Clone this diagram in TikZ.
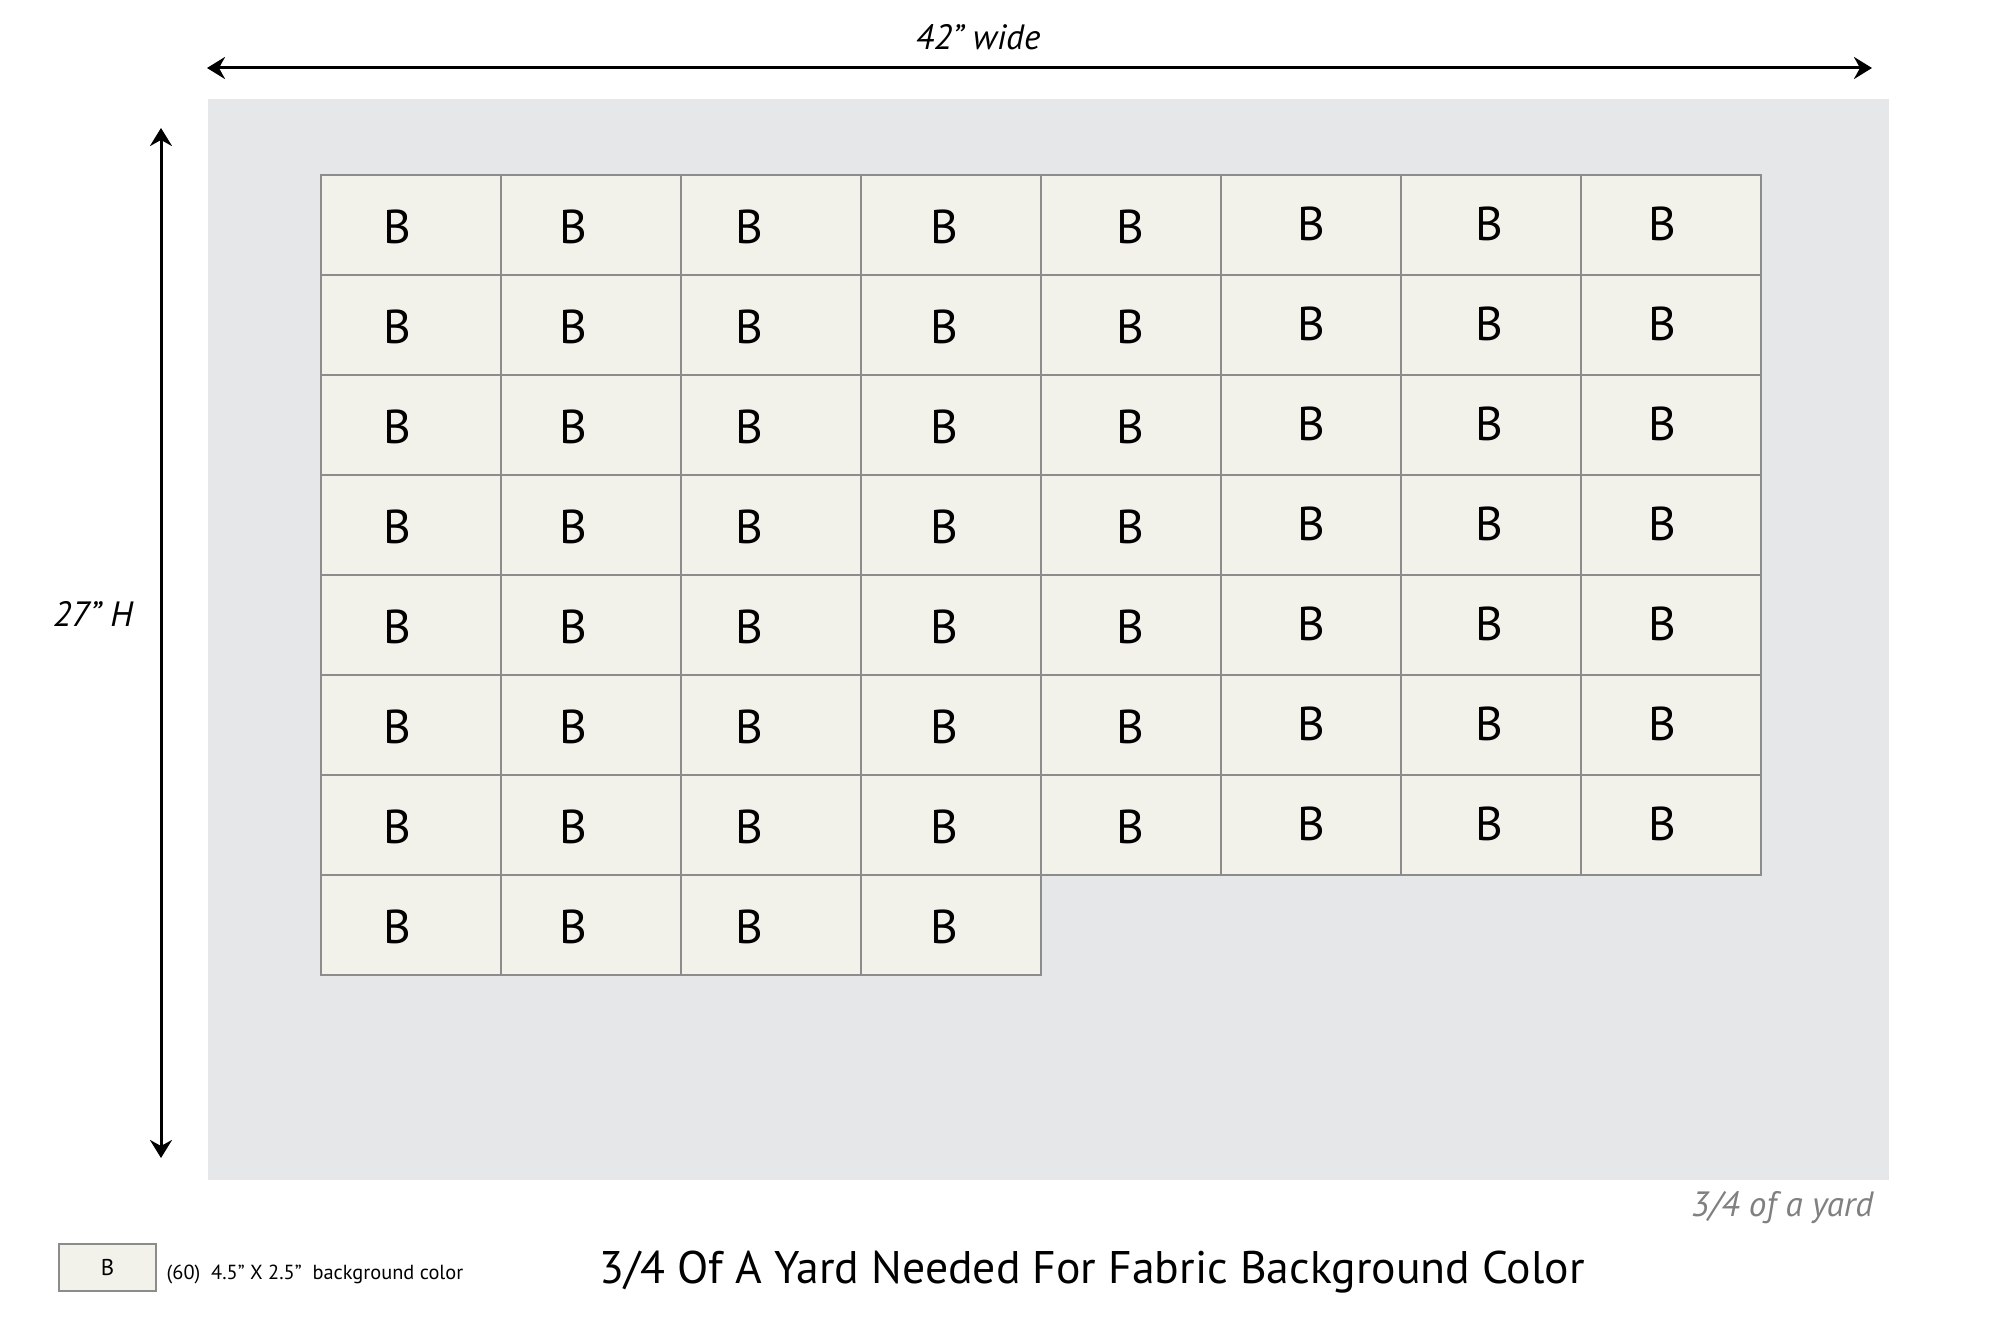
\documentclass[tikz,border=0pt]{standalone}
\usepackage{fontspec}
\setmainfont{PT Sans}
\usetikzlibrary{arrows.meta,positioning}
\definecolor{cloth}{HTML}{E6E7E9}
\definecolor{piececol}{HTML}{F2F2EA}
\definecolor{seam}{HTML}{8C8C8C}
\definecolor{notegray}{HTML}{808080}
\tikzset{
  piece/.style={draw=seam,fill=piececol,line width=0.15mm,minimum width=18mm,minimum height=10mm,inner sep=0pt},
  letter/.style={font=\fontsize{13.5}{14}\selectfont,inner sep=0pt},
  measure/.style={line width=0.3mm,{Stealth[length=1.8mm,width=2.2mm,inset=0.6mm]}-{Stealth[length=1.8mm,width=2.2mm,inset=0.6mm]}},
  dimtext/.style={font=\fontsize{10}{11}\selectfont\itshape,inner sep=0pt}
}
\begin{document}
\begin{tikzpicture}[x=0.1mm,y=-0.1mm]
    \useasboundingbox (0,0) rectangle (2000,1321);
    % fabric
    \node[fill=cloth,minimum width=168.1mm,minimum height=108.1mm,inner sep=0pt,anchor=north west] (cloth) at (207,98) {};
    % pieces, 7 full rows of 8
    \foreach \r in {0,...,6}
      \foreach \k/\dx/\dy in {0/-14/2,1/-18/2,2/-22/2,3/-7/2,4/-1/2,5/0/-1,6/-2/-1,7/-9/-1} {
        \node[piece] (p-\r-\k) at (411+180*\k,225+100*\r) {};
        \node[letter] (b-\r-\k) at ([shift={(\dx,\dy)}]p-\r-\k.center) {B};
      }
    % last short row
    \foreach \k/\dx in {0/-14,1/-18,2/-22,3/-7} {
        \node[piece] (p-7-\k) at (411+180*\k,925) {};
        \node[letter] (b-7-\k) at ([shift={(\dx,2)}]p-7-\k.center) {B};
    }
    % measures
    \coordinate (wl) at (207,68);
    \coordinate (wr) at (1872,68);
    \coordinate (ht) at (161,128);
    \coordinate (hb) at (161,1158);
    \draw[measure] (wl) -- (wr);
    \draw[measure] (ht) -- (hb);
    \node[dimtext] (wide) at (978,37) {42” wide};
    \node[dimtext] (high) at (93,614) {27” H};
    \node[dimtext,text=notegray,anchor=east] (yard) at (1874,1208) {3/4 of a yard};
    % legend
    \node[piece,minimum width=9.7mm,minimum height=4.7mm,font=\fontsize{6.5}{7}\selectfont] (key) at (107.5,1267.5) {B};
    \node[anchor=west,inner sep=0pt,font=\fontsize{5.8}{6}\selectfont] (keytext) at (166,1274) {(60)\ \ 4.5” X 2.5”\ \ background color};
    \node[font=\fontsize{13}{14}\selectfont,inner sep=0pt] (title) at (1092,1272) {3/4 Of A Yard Needed For Fabric Background Color};
\end{tikzpicture}
\end{document}
